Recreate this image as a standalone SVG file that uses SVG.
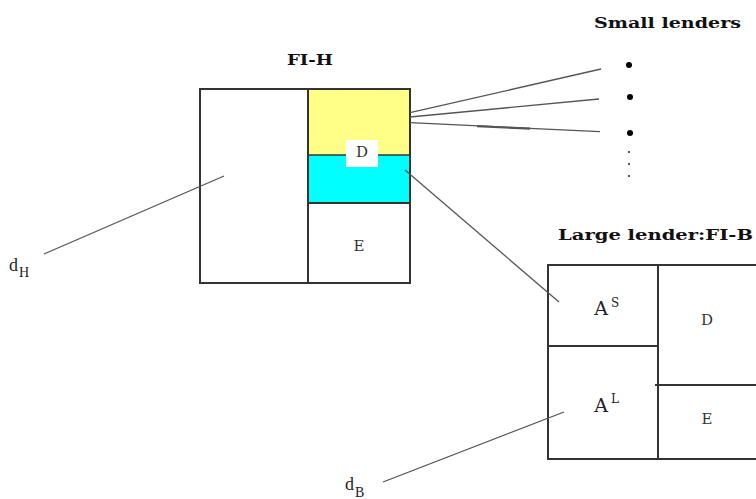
<svg xmlns="http://www.w3.org/2000/svg" width="756" height="499" viewBox="0 0 756 499">
<style>
.title{font-family:"DejaVu Serif","Liberation Serif",serif;font-weight:bold;font-size:15px;fill:#111}
.lbl{font-family:"DejaVu Serif","Liberation Serif",serif;font-size:15px;fill:#333}
.big{font-family:"DejaVu Serif","Liberation Serif",serif;font-size:19px;fill:#222}
.sup{font-family:"DejaVu Serif","Liberation Serif",serif;font-size:12px;fill:#222}
.math{font-family:"Liberation Serif","Times New Roman",serif;fill:#222}
.box{fill:none;stroke:#333;stroke-width:2}
.div{stroke:#333;stroke-width:2;fill:none}
.conn{stroke:#555;stroke-width:1.3;fill:none}
</style>
<rect width="756" height="499" fill="#fff"/>

<g id="fi-h">
  <text class="title" x="287" y="65" textLength="46" lengthAdjust="spacingAndGlyphs">FI-H</text>
  <rect x="308" y="89" width="102" height="66" fill="#FFFF88"/>
  <rect x="308" y="155" width="102" height="48" fill="#00FFFF"/>
  <rect x="200" y="89" width="210" height="194" class="box"/>
  <line x1="308" y1="89" x2="308" y2="283" class="div"/>
  <line x1="308" y1="155" x2="410" y2="155" stroke="#333" stroke-width="1.3"/>
  <line x1="308" y1="203" x2="410" y2="203" class="div"/>
  <rect x="346" y="140" width="32" height="27" fill="#fff"/>
  <text class="lbl" x="362" y="157" text-anchor="middle">D</text>
  <text class="lbl" x="359" y="251" text-anchor="middle">E</text>
</g>

<g id="small-lenders">
  <text class="title" x="594" y="27.5" textLength="147" lengthAdjust="spacingAndGlyphs">Small lenders</text>
  <circle cx="629" cy="65" r="3" fill="#000"/>
  <circle cx="630" cy="97" r="3" fill="#000"/>
  <circle cx="630" cy="133" r="3" fill="#000"/>
  <circle cx="629" cy="152" r="1.1" fill="#333"/>
  <circle cx="629" cy="164" r="1.1" fill="#333"/>
  <circle cx="629" cy="176" r="1.1" fill="#333"/>
</g>

<g id="fi-b">
  <text class="title" x="558" y="240" textLength="195" lengthAdjust="spacingAndGlyphs">Large lender:FI-B</text>
  <rect x="548" y="265" width="222" height="194" class="box"/>
  <line x1="658" y1="265" x2="658" y2="459" class="div"/>
  <line x1="548" y1="346" x2="658" y2="346" class="div"/>
  <line x1="655" y1="385" x2="770" y2="385" class="div"/>
  <text class="big" x="601" y="315" text-anchor="middle">A</text>
  <text class="sup" x="611" y="307">S</text>
  <text class="big" x="601" y="412" text-anchor="middle">A</text>
  <text class="sup" x="611" y="403">L</text>
  <text class="lbl" x="707" y="325" text-anchor="middle">D</text>
  <text class="lbl" x="707" y="424" text-anchor="middle">E</text>
</g>

<g id="dh">
  <text class="math" x="9" y="271" font-size="18">d</text>
  <text class="math" x="19" y="277" font-size="14">H</text>
</g>

<g id="db">
  <text class="math" x="345" y="490" font-size="18">d</text>
  <text class="math" x="355" y="497" font-size="14">B</text>
</g>

<g id="connectors">
  <line x1="410" y1="112.7" x2="601" y2="69" class="conn"/>
  <line x1="410" y1="117" x2="599" y2="99" class="conn"/>
  <line x1="410" y1="122.7" x2="600" y2="131.7" class="conn"/>
  <line x1="477" y1="126.2" x2="530" y2="128.7" stroke="#555" stroke-width="2.2"/>
  <line x1="405" y1="170" x2="559" y2="302" class="conn"/>
  <line x1="44" y1="254" x2="224" y2="176" class="conn"/>
  <line x1="383" y1="482" x2="564" y2="412" class="conn"/>
</g>
</svg>
